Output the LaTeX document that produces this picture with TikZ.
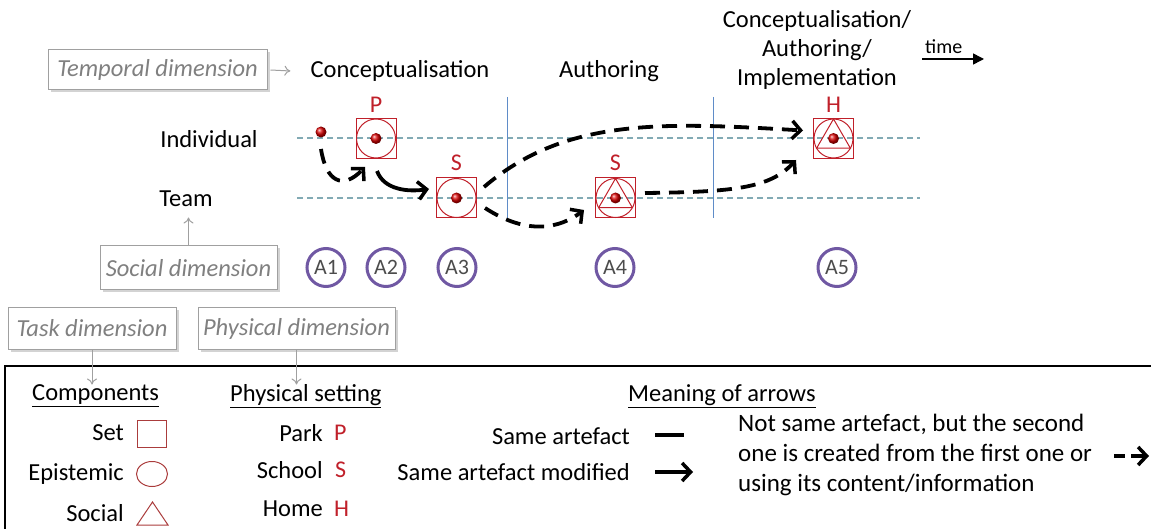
\documentclass[tikz,border=0pt]{standalone}
\usepackage{fontspec}
\setmainfont{Carlito}
\usetikzlibrary{arrows.meta,shadows,calc,shapes.geometric}
\definecolor{artred}{RGB}{192,32,42}
\definecolor{legred}{RGB}{170,60,60}
\definecolor{apurple}{RGB}{112,88,163}
\definecolor{dimgray}{RGB}{128,128,128}
\definecolor{boxgray}{RGB}{160,160,160}
\definecolor{vblue}{RGB}{95,140,200}
\definecolor{hdash}{RGB}{130,170,180}
\tikzset{
  dimbox/.style={draw=boxgray, fill=white, line width=1pt, text=dimgray,
    font=\itshape\fontsize{24.5}{28}\selectfont, inner sep=3pt,
    drop shadow={opacity=0.35, shadow xshift=2.5pt, shadow yshift=-2.5pt}},
  lbl/.style={font=\fontsize{24.5}{29}\selectfont, inner sep=0pt},
  leg/.style={font=\fontsize{24.5}{29}\selectfont, inner sep=0pt},
  redtxt/.style={text=artred, font=\fontsize{24}{28}\selectfont, inner sep=0pt},
  artbox/.style={draw=artred, line width=1pt, minimum size=40pt, inner sep=0pt},
  actc/.style={draw=apurple, line width=3pt, circle, minimum size=38pt, inner sep=0pt,
    text=black!70, font=\fontsize{22}{25}\selectfont},
  grayarr/.style={draw=boxgray, line width=1pt, -{To[length=6pt,width=10pt]}},
  barb/.style={-{Straight Barb[length=8.5pt,width=18pt,line width=3.5pt]}},
  dasharr/.style={line width=3.8pt, dash pattern=on 15pt off 9pt, barb},
  solarr/.style={line width=3.8pt, barb},
  hline/.style={draw=hdash, line width=1.2pt, dash pattern=on 6pt off 4pt},
  vline/.style={draw=vblue, line width=1pt},
}
\newcommand\artcirc[1]{\draw[artred, line width=1pt] (#1) circle (19.5pt);}
\newcommand\arttri[1]{\draw[artred, line width=1pt] ($(#1)+(0,-19.5)$) -- ($(#1)+(16.9,9.75)$) -- ($(#1)+(-16.9,9.75)$) -- cycle;}
\newcommand\artball{\shade[ball color=red!85!black]}
\begin{document}
\begin{tikzpicture}[x=1pt,y=-1pt]
\useasboundingbox (0,0) rectangle (1151,529);

% dashed level lines and phase separators
\coordinate (il0) at (297,138); \coordinate (il1) at (920,138);
\coordinate (tl0) at (297,198); \coordinate (tl1) at (920,198);
\draw[hline] (il0) -- (il1);
\draw[hline] (tl0) -- (tl1);
\coordinate (v1a) at (507,97); \coordinate (v1b) at (507,218);
\coordinate (v2a) at (713,97); \coordinate (v2b) at (713,218);
\draw[vline] (v1a) -- (v1b);
\draw[vline] (v2a) -- (v2b);

% dimension boxes
\node[dimbox, minimum width=219pt, minimum height=40pt] (temporal) at (157.5,70) {Temporal dimension};
\node[dimbox, minimum width=177pt, minimum height=44pt] (social) at (188.5,268) {Social dimension};
\node[dimbox, minimum width=168pt, minimum height=41pt] (task) at (92,328.5) {Task dimension};
\node[dimbox, minimum width=197pt, minimum height=41pt] (physical) at (296.5,328.5) {Physical dimension};

% phase labels
\node[lbl] (ph1) at (400,71) {Conceptualisation};
\node[lbl] (ph2) at (609,71) {Authoring};
\node[lbl, align=center, font=\fontsize{24.5}{29}\selectfont] (ph3) at (817,50) {Conceptualisation/\\Authoring/\\Implementation};
\node[font=\fontsize{20}{24}\selectfont, inner sep=0pt, anchor=base west] (time) at (925,54) {time};
\coordinate (time0) at (922,59);
\coordinate (timeend) at (984,59);
\draw[line width=1.5pt, -{Triangle[length=11pt,width=11pt]}] (time0) -- (timeend);

\draw[grayarr] (temporal.east) ++(3,0) -- ($(ph1.west)+(-20,0)$);

% level labels
\node[lbl] (indiv) at (209,139) {Individual};
\node[lbl] (team) at (186,199) {Team};
\draw[grayarr] (social.north) -- ($(social.north)+(0,-28)$);

% artefacts
\coordinate (dot1) at (321,132);
\artball (dot1) circle (5.5pt);
\node[artbox] (p) at (376,138.5) {};
\artcirc{p} \artball (p) circle (5.5pt);
\node[redtxt] (plbl) at (376,105) {P};
\node[artbox] (s3) at (456.5,198) {};
\artcirc{s3} \artball (s3) circle (5.5pt);
\node[redtxt] (s3lbl) at (456.5,163) {S};
\node[artbox] (s4) at (615.5,198) {};
\artcirc{s4} \arttri{s4} \artball (s4) circle (5.5pt);
\node[redtxt] (s4lbl) at (615.5,163) {S};
\node[artbox] (h) at (833.5,138.5) {};
\artcirc{h} \arttri{h} \artball (h) circle (5.5pt);
\node[redtxt] (hlbl) at (833.5,105) {H};

% activity circles
\node[actc] (a1) at (326,267.5) {A1};
\node[actc] (a2) at (386,267.5) {A2};
\node[actc] (a3) at (457,267.5) {A3};
\node[actc] (a4) at (615,267.5) {A4};
\node[actc] (a5) at (837,267.5) {A5};

% connectors
\draw[dasharr] ($(dot1)+(0,17)$) .. controls (326,182) and (343,190) .. ($(p.south)+(-11,8)$);
\draw[solarr] ($(p.south)+(1,12)$) .. controls (384,190) and (408,192) .. ($(s3.west)+(-7,-9)$);
\draw[dasharr] ($(s3.east)+(7,-11)$) .. controls (565,118) and (660,122) .. ($(h.west)+(-10,-8)$);
\draw[dasharr] ($(s3.east)+(8,10)$) .. controls (528,236) and (560,228) .. ($(s4.west)+(-11,12)$);
\draw[dasharr] ($(s4.east)+(9,-5)$) .. controls (735,192) and (770,188) .. ($(h.south west)+(-17,1)$);

% legend
\coordinate (lg0) at (5,366); \coordinate (lg1) at (1170,545);
\draw[line width=2pt] (lg0) rectangle (lg1);
\draw[grayarr] (task.south) -- ($(task.south)+(0,35)$);
\draw[grayarr] (physical.south) -- ($(physical.south)+(0,35)$);

\node[leg, anchor=west] (comp) at (32,396) {\underline{Components}};
\node[leg, anchor=east] (setl) at (124,433) {Set};
\node[draw=legred, line width=1pt, minimum width=29pt, minimum height=27pt, inner sep=0pt] (setsym) at (152,433.5) {};
\node[leg, anchor=east] (epil) at (124,474) {Epistemic};
\node[draw=legred, ellipse, line width=1pt, minimum width=31pt, minimum height=25pt, inner sep=0pt] (episym) at (152,474) {};
\node[leg, anchor=east] (socl) at (124,513) {Social};
\coordinate (socsym) at (152.5,514);
\draw[legred, line width=1pt] ($(socsym)+(0,-12)$) -- ($(socsym)+(15.5,11)$) -- ($(socsym)+(-15.5,11)$) -- cycle;

\node[leg, anchor=west] (phys) at (230,396) {\underline{Physical setting}};
\node[leg, anchor=east] (park) at (323,433) {Park};
\node[redtxt, anchor=west] (parkp) at (334,433) {P};
\node[leg, anchor=east] (school) at (323,470) {School};
\node[redtxt, anchor=west] (schools) at (335,470) {S};
\node[leg, anchor=east] (home) at (323,509) {Home};
\node[redtxt, anchor=west] (homeh) at (334,509) {H};

\node[leg, anchor=west] (mean) at (628,396) {\underline{Meaning of arrows}};
\node[leg, anchor=east] (same) at (630,436) {Same artefact};
\coordinate (sa0) at (655,435); \coordinate (sa1) at (684,435);
\draw[line width=4pt] (sa0) -- (sa1);
\node[leg, anchor=east] (samemod) at (630,472) {Same artefact modified};
\coordinate (sm0) at (655,472); \coordinate (sm1) at (693,472);
\draw[solarr] (sm0) -- (sm1);
\node[leg, anchor=west, align=left, font=\fontsize{25}{30}\selectfont] (notsame) at (738,455)
  {Not same artefact, but the second\\one is created from the first one or\\using its content/information};
\coordinate (ns0) at (1114,456); \coordinate (ns1) at (1125,456);
\coordinate (ns2) at (1131,456); \coordinate (ns3) at (1149,456);
\draw[line width=3.8pt] (ns0) -- (ns1);
\draw[solarr] (ns2) -- (ns3);
\end{tikzpicture}
\end{document}
